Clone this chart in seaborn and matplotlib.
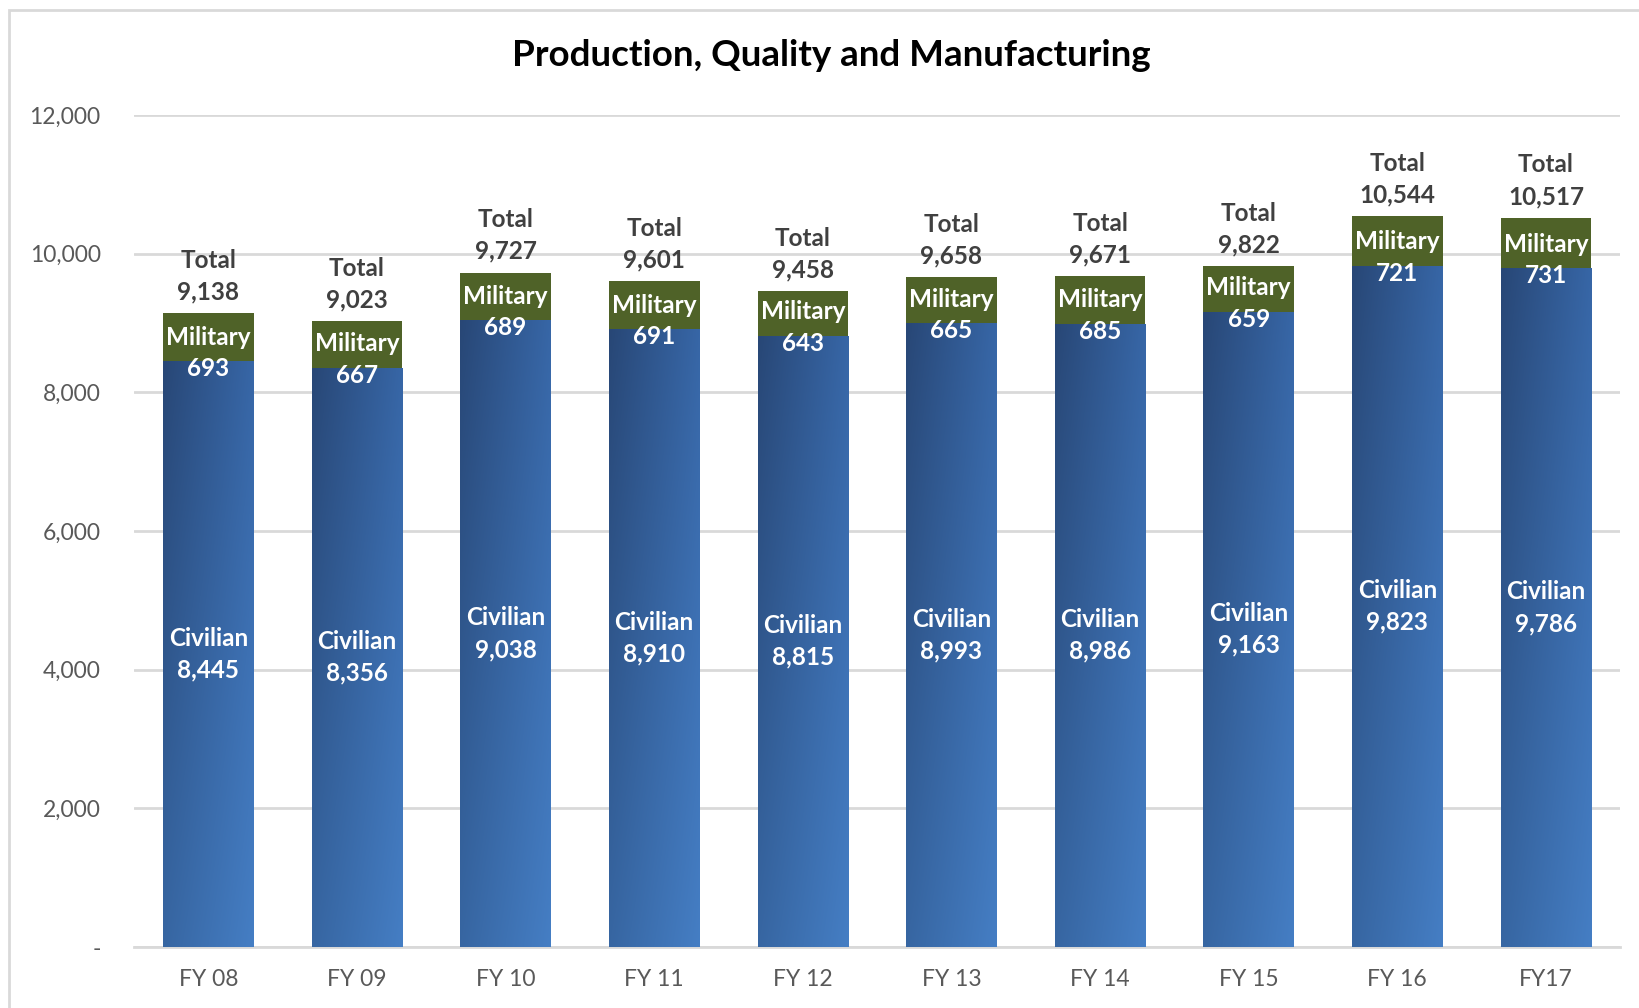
import numpy as np
import pandas as pd
import matplotlib
matplotlib.use("Agg")
import matplotlib.pyplot as plt
import seaborn as sns
from matplotlib.patches import Rectangle

categories = ["FY 08", "FY 09", "FY 10", "FY 11", "FY 12", "FY 13", "FY 14", "FY 15", "FY 16", "FY17"]
civilian = [8445, 8356, 9038, 8910, 8815, 8993, 8986, 9163, 9823, 9786]
military = [693, 667, 689, 691, 643, 665, 685, 659, 721, 731]
totals = [9138, 9023, 9727, 9601, 9458, 9658, 9671, 9822, 10544, 10517]
ytick_values = [0, 2000, 4000, 6000, 8000, 10000, 12000]
ytick_labels = ["-", "2,000", "4,000", "6,000", "8,000", "10,000", "12,000"]
title = "Production, Quality and Manufacturing"

sns.set_theme(style="white")
plt.rcParams["font.family"] = ["Lato", "DejaVu Sans"]

df = pd.DataFrame({"cat": categories, "civ": civilian, "mil": military, "tot": totals})

fig = plt.figure(figsize=(16.4, 10.08), dpi=100)
ax = fig.add_axes([0.0817, 0.0605, 0.9063, 0.8255])

green = "#4F6228"
blue = "#3A69A8"
sns.barplot(data=df, x="cat", y="tot", color=green, width=0.61, ax=ax,
            saturation=1, edgecolor="none", linewidth=0, zorder=3)
n_tot = len(ax.patches)
sns.barplot(data=df, x="cat", y="civ", color=blue, width=0.61, ax=ax,
            saturation=1, edgecolor="none", linewidth=0, zorder=3)
civ_patches = ax.patches[n_tot:]

ax.set_ylim(0, 12000)
ax.set_xlim(-0.5, len(categories) - 0.5)

# gradient fill for civilian bars (darker top-left, lighter bottom-right)
u = np.linspace(0, 1, 64)[None, :]
v = np.linspace(0, 1, 128)[:, None]  # 0 = bottom, 1 = top
tl = np.array([0x28, 0x47, 0x76]) / 255
tr = np.array([0x37, 0x66, 0xA6]) / 255
bl = np.array([0x37, 0x66, 0xA2]) / 255
br = np.array([0x45, 0x7E, 0xC4]) / 255
img = (bl * (1 - u[..., None]) * (1 - v[..., None]) + br * u[..., None] * (1 - v[..., None])
       + tl * (1 - u[..., None]) * v[..., None] + tr * u[..., None] * v[..., None])
for p in civ_patches:
    x0, y0 = p.get_x(), p.get_y()
    w, h = p.get_width(), p.get_height()
    im = ax.imshow(img, extent=[x0, x0 + w, y0, y0 + h], origin="lower",
                   aspect="auto", zorder=3.5, interpolation="bilinear")
    im.set_clip_path(p)
ax.set_xlim(-0.5, len(categories) - 0.5)
ax.set_ylim(0, 12000)

# labels
lbl_font = dict(fontsize=17.5, fontweight="bold", ha="center")
for i in range(len(categories)):
    ax.text(i, civilian[i] / 2, f"Civilian\n{civilian[i]:,}", va="center",
            color="white", zorder=5, linespacing=1.45, **lbl_font)
    ax.annotate(f"Military\n{military[i]:,}", xy=(i, civilian[i]), xytext=(0, 6),
                textcoords="offset points", va="center", color="white", zorder=5,
                linespacing=1.45, **lbl_font)
    ax.annotate(f"Total\n{totals[i]:,}", xy=(i, totals[i]), xytext=(0, 7),
                textcoords="offset points", va="bottom", color="#404040", zorder=5,
                linespacing=1.45, **lbl_font)

ax.set_yticks(ytick_values)
ax.set_yticklabels(ytick_labels)
ax.yaxis.grid(True, color="#D9D9D9", linewidth=2)
ax.set_axisbelow(True)
ax.tick_params(axis="y", length=0, pad=24, labelsize=16.5, labelcolor="#595959")
ax.tick_params(axis="x", length=0, pad=16, labelsize=16.5, labelcolor="#595959")
ax.set_xlabel("")
ax.set_ylabel("")
for s in ["top", "right", "left"]:
    ax.spines[s].set_visible(False)
ax.spines["bottom"].set_color("#D9D9D9")
ax.spines["bottom"].set_linewidth(2)

fig.text(0.507, 0.945, title, ha="center", va="center", fontsize=26.5,
         fontweight="bold", color="black")

border = Rectangle((0.0055, -0.05), 1.1, 1.0396, transform=fig.transFigure,
                   fill=False, edgecolor="#D9D9D9", linewidth=2, zorder=0)
fig.patches.append(border)

fig.savefig("out.png", dpi=100)
